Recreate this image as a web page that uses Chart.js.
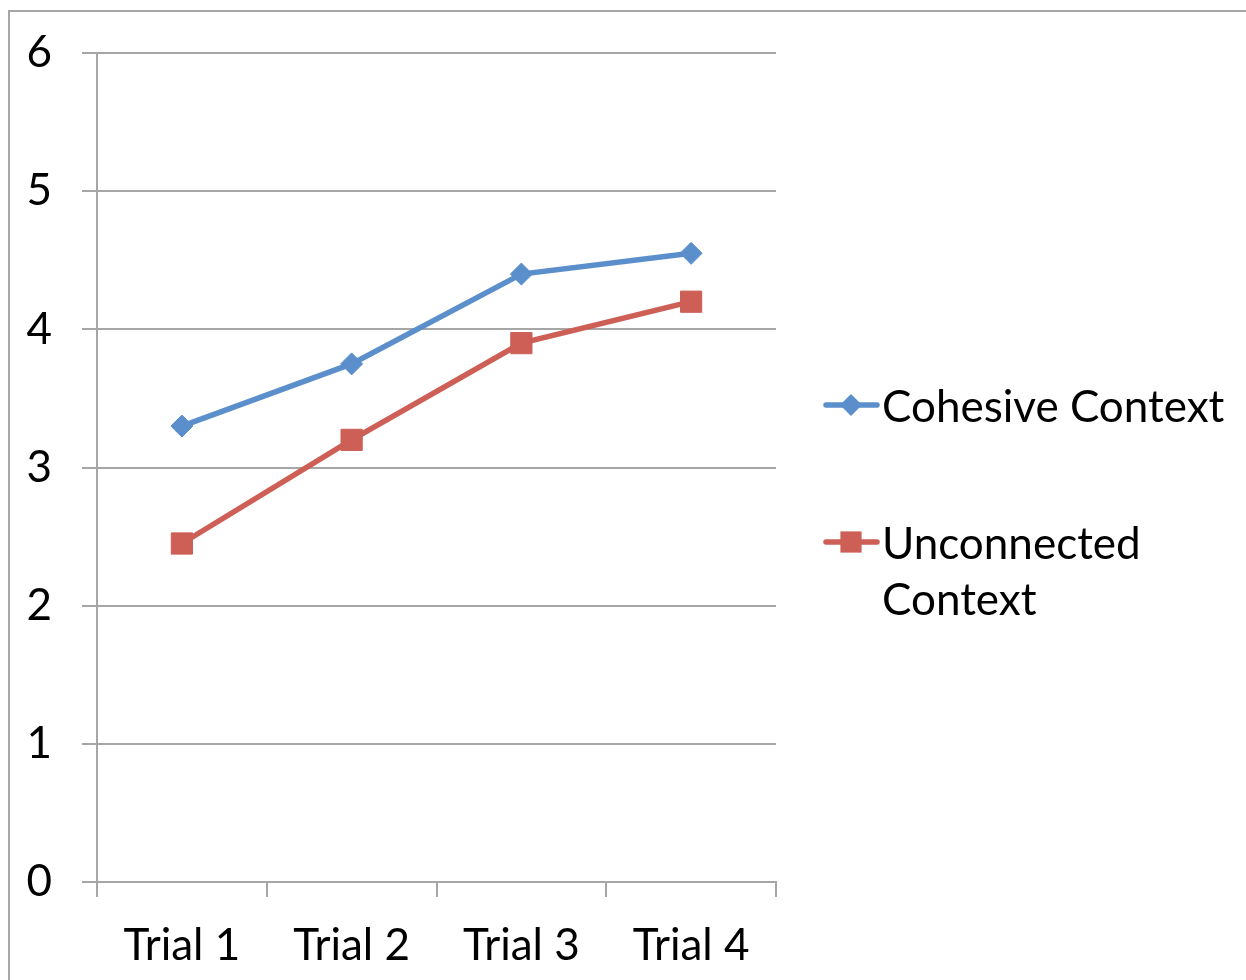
<!DOCTYPE html>
<html>
<head>
<meta charset="utf-8">
<script src="https://cdn.jsdelivr.net/npm/chart.js@4.4.1/dist/chart.umd.min.js"></script>
<style>
  html, body { margin: 0; padding: 0; background: #fff; }
  #wrap { width: 1246px; height: 980px; position: relative; }
</style>
</head>
<body>
<div id="wrap"><canvas id="chart" width="1246" height="980"></canvas></div>
<script>
let trials = ['Trial 1', 'Trial 2', 'Trial 3', 'Trial 4'];
let cohesive = [3.3, 3.75, 4.4, 4.55];
let unconnected = [2.45, 3.2, 3.9, 4.2];
let seriesNames = ['Cohesive Context', ['Unconnected', 'Context']];

const FONT = 'Lato, "Liberation Sans", sans-serif';
const FONT_SIZE = 44;
const GRID = '#a6a6a6';

// frame round the whole chart, like the office export
let framePlugin = {
  id: 'frame',
  beforeDraw(chart) {
    let ctx = chart.ctx;
    ctx.save();
    ctx.fillStyle = '#fff';
    ctx.fillRect(0, 0, chart.width, chart.height);
    ctx.strokeStyle = GRID;
    ctx.lineWidth = 2;
    ctx.strokeRect(9, 11, chart.width + 20, chart.height + 20);
    ctx.restore();
  }
};

// legend on the right, drawn by hand so the wrapped label sits right
let legendPlugin = {
  id: 'sideLegend',
  afterDraw(chart) {
    let ctx = chart.ctx;
    let rows = [405, 542];
    ctx.save();
    chart.data.datasets.forEach((ds, i) => {
      let y = rows[i];
      ctx.strokeStyle = ds.borderColor;
      ctx.lineWidth = ds.borderWidth;
      ctx.lineCap = 'round';
      ctx.beginPath();
      ctx.moveTo(826, y);
      ctx.lineTo(877, y);
      ctx.stroke();
      ctx.fillStyle = ds.backgroundColor;
      ctx.beginPath();
      if (ds.pointStyle === 'rect') {
        let s = ds.pointRadius * Math.SQRT1_2;
        ctx.rect(851 - s, y - s, 2 * s, 2 * s);
      } else {
        let r = ds.pointRadius;
        ctx.moveTo(851, y - r);
        ctx.lineTo(851 + r, y);
        ctx.lineTo(851, y + r);
        ctx.lineTo(851 - r, y);
        ctx.closePath();
      }
      ctx.fill();
      ctx.fillStyle = '#000';
      ctx.font = FONT_SIZE + 'px ' + FONT;
      ctx.textBaseline = 'middle';
      let lines = Array.isArray(ds.label) ? ds.label : [ds.label];
      lines.forEach((t, j) => ctx.fillText(t, 882, y + 3 + j * 56));
    });
    ctx.restore();
  }
};

new Chart(document.getElementById('chart'), {
  type: 'line',
  data: {
    labels: trials,
    datasets: [
      {
        label: seriesNames[0],
        data: cohesive,
        borderColor: '#5b8fcb',
        backgroundColor: '#5b8fcb',
        borderWidth: 5.5,
        pointStyle: 'rectRot',
        pointRadius: 11,
        pointBorderWidth: 1,
        tension: 0
      },
      {
        label: seriesNames[1],
        data: unconnected,
        borderColor: '#cd5f57',
        backgroundColor: '#cd5f57',
        borderWidth: 5.5,
        pointStyle: 'rect',
        pointRadius: 15,
        pointBorderWidth: 1,
        tension: 0
      }
    ]
  },
  options: {
    responsive: false,
    animation: false,
    layout: { padding: { top: 53, right: 470, bottom: 0, left: 0 } },
    plugins: {
      legend: { display: false },
      tooltip: { enabled: false }
    },
    scales: {
      x: {
        offset: true,
        grid: {
          offset: true,
          drawOnChartArea: false,
          drawTicks: true,
          tickLength: 15,
          color: GRID,
          lineWidth: 2
        },
        border: { color: GRID, width: 2 },
        ticks: { color: '#000', font: { family: FONT, size: FONT_SIZE }, padding: 22, maxRotation: 0 },
        afterFit(scale) {
          scale.height = 98;
          scale.paddingLeft = 0;
          scale.paddingRight = 0;
        }
      },
      y: {
        min: 0,
        max: 6,
        ticks: { stepSize: 1, color: '#000', font: { family: FONT, size: FONT_SIZE }, padding: 30 },
        grid: { color: GRID, lineWidth: 2, tickLength: 15 },
        border: { color: GRID, width: 2 },
        afterFit(scale) {
          scale.width = 97;
          scale.paddingTop = 0;
          scale.paddingBottom = 0;
        }
      }
    }
  },
  plugins: [framePlugin, legendPlugin]
});
</script>
</body>
</html>
